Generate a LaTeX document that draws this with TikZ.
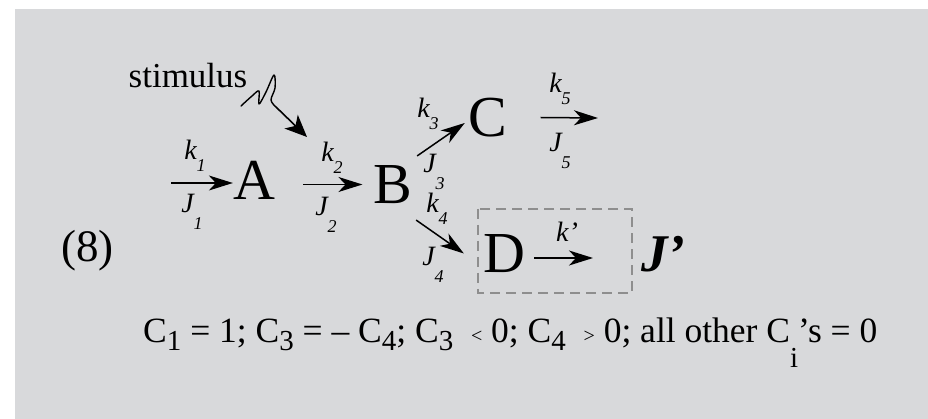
\documentclass[tikz,border=0pt]{standalone}
\usepackage{fontspec}
\newfontfamily\timesfont{Liberation Serif}
\usetikzlibrary{arrows.meta}
\definecolor{panelGray}{HTML}{D8D9DB}
\definecolor{boxGray}{HTML}{8E8E8E}
% subscript of a rate label
\newcommand{\rsub}[2][0.42em]{\raisebox{-#1}{\fontsize{18}{18}\selectfont #2}}
% subscript in the condition line
\newcommand{\csub}[2][0.24em]{\raisebox{-#1}{\fontsize{29}{29}\selectfont #2}}

\begin{document}
\begin{tikzpicture}[x=1pt,y=-1pt,
    species/.style={font=\timesfont\fontsize{58}{60}\selectfont, inner sep=0pt},
    ratelab/.style={font=\timesfont\fontsize{28}{30}\selectfont\itshape, inner sep=0pt},
    flux/.style={-{Stealth[length=24pt,width=15pt,inset=7pt]}, line width=1.5pt},
    stimarrow/.style={-{Stealth[length=22pt,width=19pt,inset=6pt]}, line width=1.6pt},
    squig/.style={line width=1.4pt, line join=round, line cap=round},
    dashbox/.style={boxGray, line width=2.6pt, dash pattern=on 10pt off 6pt}]

    \useasboundingbox (0,0) rectangle (928,419);
    \fill[panelGray] (15,9) rectangle (928,419);

    % species
    \node[font=\timesfont\fontsize{45}{48}\selectfont, inner sep=0pt] (label) at (87.5,251) {(8)};
    \node[species] (A) at (254,180.5) {A};
    \node[species] (B) at (393,184.5) {B};
    \node[species] (C) at (488,117.5) {C};
    \node[species] (D) at (504,253.5) {D};
    \node[font=\timesfont\fontsize{53}{56}\selectfont\bfseries\itshape, inner sep=0pt] (Jp) at (663.5,254.5) {J’};

    % free ends
    \coordinate (inA) at (171,183);
    \coordinate (outC) at (598,118);
    \coordinate (outD) at (593,258);

    % fluxes
    \draw[flux] (inA) -- (inA -| A.west);
    \draw[flux, shorten <=28pt, shorten >=11pt] (A.east |- B.west) -- (B.west);
    \draw[flux] ([shift={(4.6pt,9.3pt)}]B.north east) -- ([shift={(-3.7pt,-5.5pt)}]C.west);
    \draw[flux] ([shift={(3.6pt,-16.3pt)}]B.south east) -- ([xshift=-19pt]D.west);
    \draw[flux] ([xshift=33pt]C.east) -- (outC);
    \draw[flux] ([shift={(9pt,-4.5pt)}]D.east) -- (outD);

    % rate labels
    \node[ratelab] (k1) at (195,156) {k\rsub{1}};
    \node[ratelab] (J1) at (192,212) {J\rsub[0.62em]{1}};
    \node[ratelab] (k2) at (332,158) {k\rsub{2}};
    \node[ratelab] (J2) at (326,215) {J\rsub[0.62em]{2}};
    \node[ratelab] (k3) at (428,114) {k\rsub{3}};
    \node[ratelab] (J3) at (434,172) {J\rsub[0.62em]{3}};
    \node[ratelab] (k4) at (437,209) {k\rsub{4}};
    \node[ratelab] (J4) at (433,265) {J\rsub[0.62em]{4}};
    \node[ratelab] (k5) at (560,89) {k\rsub{5}};
    \node[ratelab] (J5) at (560,151) {J\rsub[0.62em]{5}};
    \node[ratelab] (kp) at (567,232) {k’};

    % stimulus
    \node[font=\timesfont\fontsize{35}{38}\selectfont, inner sep=0pt] (stim) at (188,76) {stimulus};
    \coordinate (squigend) at (276,107);
    \coordinate (stimtip) at (307,137);
    \draw[squig] plot[smooth, tension=0.55] coordinates {(241,106) (252,96) (259,91) (259,104) (266,92) (274,75) (275,88) (271,100) (276,107)};
    \draw[stimarrow] (squigend) -- (stimtip);

    % box round D
    \draw[dashbox] (478,209) rectangle (632,293);

    % conditions
    \node[font=\timesfont\fontsize{35.5}{40}\selectfont, inner sep=0pt, anchor=base west] (cond) at (143,342)
      {C\csub{1} = 1;\ C\csub{3} = – C\csub{4}; C\csub{3} \ {\fontsize{20}{20}\selectfont <} 0; C\csub{4} \ {\fontsize{20}{20}\selectfont >} 0; all other C\raisebox{-0.72em}{\fontsize{29}{29}\selectfont i}’s = 0};
\end{tikzpicture}
\end{document}
